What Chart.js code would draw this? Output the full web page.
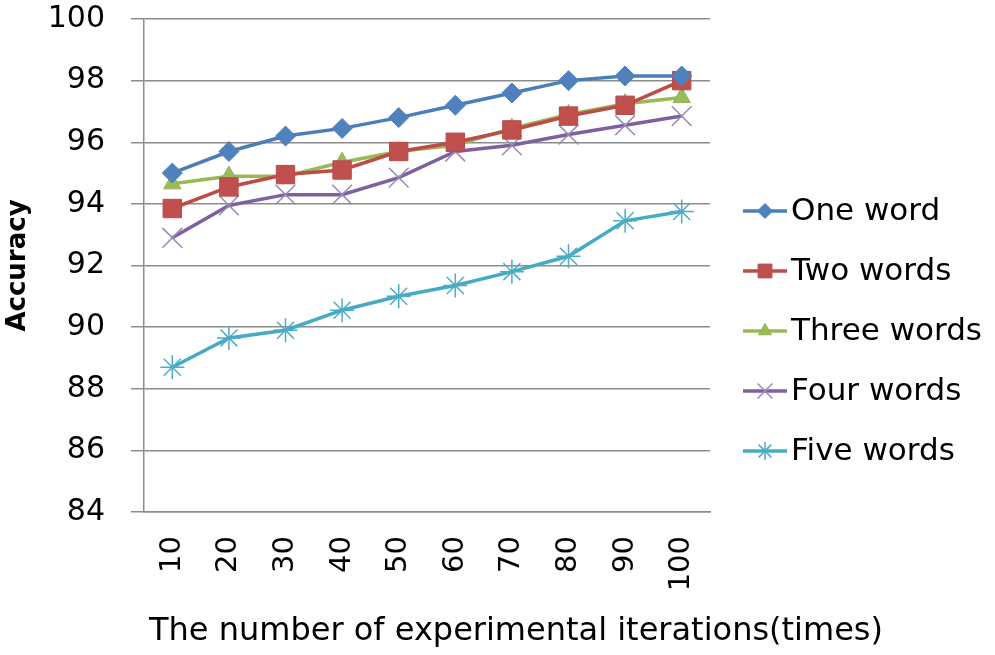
<!DOCTYPE html>
<html>
<head>
<meta charset="utf-8">
<script src="https://cdn.jsdelivr.net/npm/chart.js@4/dist/chart.umd.min.js"></script>
<style>
  html, body { margin: 0; padding: 0; background: #fff; }
  #wrap { width: 995px; height: 655px; }
</style>
</head>
<body>
<div id="wrap"><canvas id="grafico" width="995" height="655"></canvas></div>
<script>
// dati
var iterazioni = ['10', '20', '30', '40', '50', '60', '70', '80', '90', '100'];
var serieNomi = ['One word', 'Two words', 'Three words', 'Four words', 'Five words'];
var unaParola = [95.0, 95.7, 96.2, 96.45, 96.8, 97.2, 97.6, 98.0, 98.15, 98.15];
var dueParole = [93.85, 94.55, 94.95, 95.1, 95.7, 96.0, 96.4, 96.85, 97.2, 98.0];
var treParole = [94.65, 94.9, 94.9, 95.35, 95.7, 95.9, 96.45, 96.9, 97.25, 97.45];
var quattroParole = [92.9, 93.95, 94.3, 94.3, 94.85, 95.7, 95.9, 96.25, 96.55, 96.85];
var cinqueParole = [88.7, 89.65, 89.9, 90.55, 91.0, 91.35, 91.8, 92.3, 93.45, 93.75];
var tickY = [84, 86, 88, 90, 92, 94, 96, 98, 100];
var titoloX = 'The number of experimental iterations(times)';

var font = '"DejaVu Sans", sans-serif';

function serie(label, valori, linea, marker, bordo, stile, raggio, spessore) {
    return {
        label: label,
        data: valori,
        borderColor: linea,
        backgroundColor: marker,
        borderWidth: 3.5,
        tension: 0,
        pointStyle: stile,
        pointRadius: raggio,
        pointHoverRadius: raggio,
        pointBackgroundColor: marker,
        pointBorderColor: bordo,
        pointBorderWidth: spessore
    };
}

var datasets = [
    serie(serieNomi[0], unaParola, '#4A7EBB', '#4F81BD', '#4F81BD', 'rectRot', 10, 1),
    serie(serieNomi[1], dueParole, '#BE4B48', '#C0504D', '#B84A47', 'rect', 13, 1),
    serie(serieNomi[2], treParole, '#98B954', '#9BBB59', '#93B152', 'triangle', 10, 1),
    serie(serieNomi[3], quattroParole, '#7D60A0', '#9A89B5', '#9A89B5', 'crossRot', 14, 1.5),
    serie(serieNomi[4], cinqueParole, '#46AAC5', '#6CC0D6', '#4BACC6', 'star', 12, 1.5)
];

// legenda a destra e titolo dell'asse x disegnati a mano
var legendaPlugin = {
    id: 'legendaDestra',
    afterDraw: function (chart) {
        var ctx = chart.ctx;
        var sets = chart.data.datasets;
        for (var i = 0; i < sets.length; i++) {
            var ds = sets[i];
            var y = 211 + i * 60;
            ctx.save();
            ctx.strokeStyle = ds.borderColor;
            ctx.lineWidth = 3.5;
            ctx.beginPath();
            ctx.moveTo(743, y);
            ctx.lineTo(787, y);
            ctx.stroke();
            ctx.fillStyle = ds.pointBackgroundColor;
            ctx.strokeStyle = ds.pointBorderColor;
            ctx.lineWidth = ds.pointBorderWidth;
            Chart.helpers.drawPoint(ctx, {
                pointStyle: ds.pointStyle,
                radius: ds.pointRadius * 0.75,
                rotation: 0,
                borderWidth: ds.pointBorderWidth
            }, 765, y);
            ctx.fillStyle = '#000';
            ctx.font = '31px ' + font;
            ctx.textBaseline = 'middle';
            ctx.textAlign = 'left';
            ctx.fillText(ds.label, 791, y + 1);
            ctx.restore();
        }
        ctx.save();
        ctx.fillStyle = '#000';
        ctx.font = '32px ' + font;
        ctx.textAlign = 'center';
        ctx.textBaseline = 'middle';
        ctx.fillText(titoloX, 516, 632);
        ctx.restore();
    }
};

var ctx = document.getElementById('grafico');
var chart = new Chart(ctx, {
    type: 'line',
    data: {
        labels: iterazioni,
        datasets: datasets
    },
    options: {
        responsive: false,
        animation: false,
        layout: { padding: { left: 0, right: 285, top: 19, bottom: 0 } },
        plugins: {
            legend: { display: false },
            tooltip: { enabled: false }
        },
        scales: {
            x: {
                offset: true,
                grid: { display: false, drawTicks: false },
                border: { display: true, color: '#8C8C8C', width: 1.5 },
                ticks: {
                    minRotation: 90,
                    maxRotation: 90,
                    padding: 24,
                    color: '#000',
                    font: { family: font, size: 29 }
                },
                afterFit: function (scale) { scale.height = 143; }
            },
            y: {
                min: 84,
                max: 100,
                afterBuildTicks: function (scale) {
                    scale.ticks = tickY.map(function (v) { return { value: v }; });
                },
                grid: { color: '#8C8C8C', lineWidth: 1.5, tickLength: 13 },
                border: { display: true, color: '#8C8C8C', width: 1.5 },
                ticks: {
                    padding: 26,
                    color: '#000',
                    font: { family: font, size: 30 }
                },
                title: {
                    display: true,
                    text: 'Accuracy',
                    color: '#000',
                    font: { family: font, size: 26, weight: 'bold' },
                    padding: { top: 3, bottom: 0 }
                },
                afterFit: function (scale) {
                    scale.width = 144;
                    scale.paddingTop = 0;
                    scale.paddingBottom = 0;
                }
            }
        }
    },
    plugins: [legendaPlugin]
});
</script>
</body>
</html>
